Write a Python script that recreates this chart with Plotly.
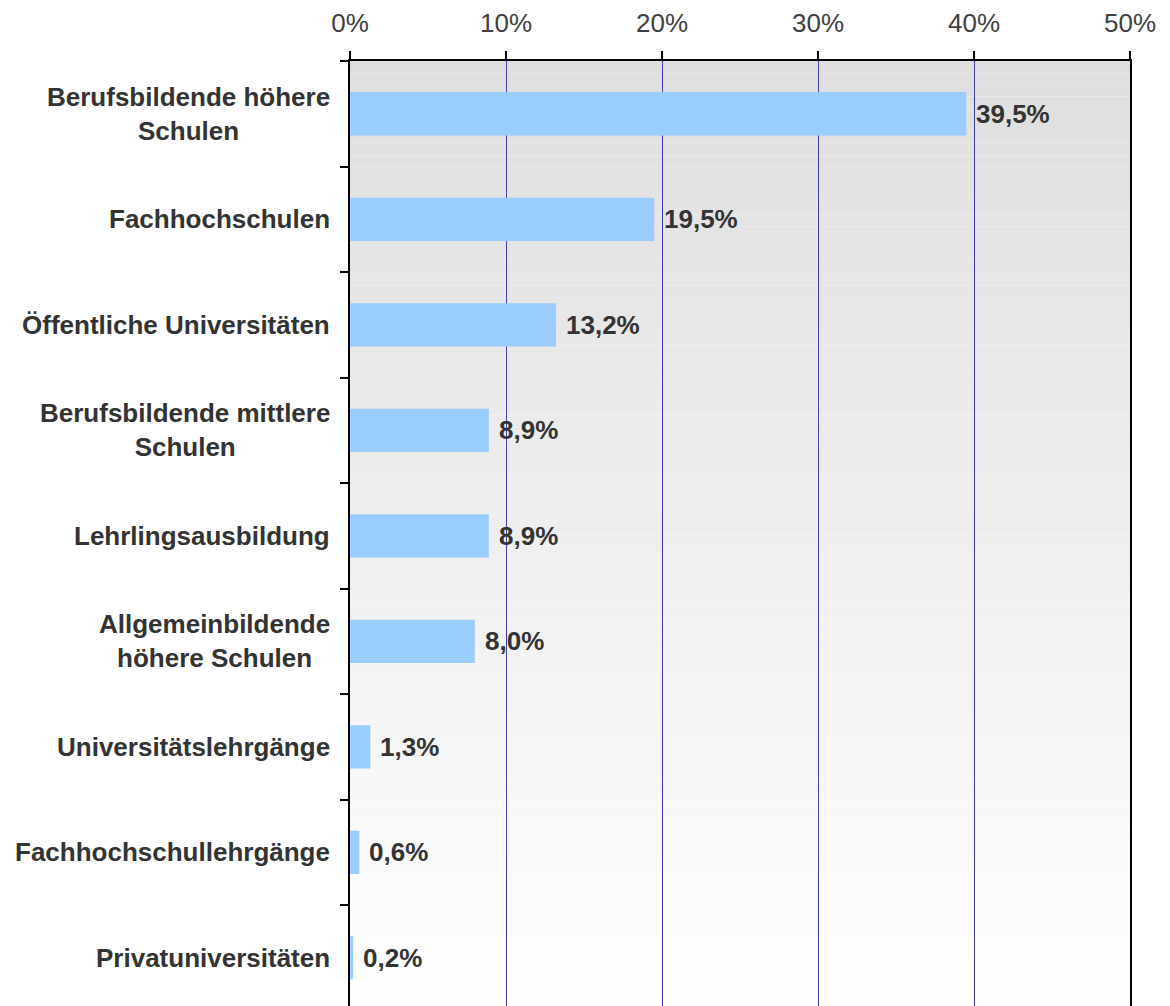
import plotly.graph_objects as go

categories = [
    "Berufsbildende höhere<br>Schulen",
    "Fachhochschulen",
    "Öffentliche Universitäten",
    "Berufsbildende mittlere<br>Schulen",
    "Lehrlingsausbildung",
    "Allgemeinbildende<br>höhere Schulen",
    "Universitätslehrgänge",
    "Fachhochschullehrgänge",
    "Privatuniversitäten",
]
values = [39.5, 19.5, 13.2, 8.9, 8.9, 8.0, 1.3, 0.6, 0.2]
x_ticks = [0, 10, 20, 30, 40, 50]
x_tick_labels = ["0%", "10%", "20%", "30%", "40%", "50%"]

FONT = "Liberation Sans, Arial, Helvetica, sans-serif"
TEXT = "#333333"

fig = go.Figure()
fig.add_trace(go.Bar(
    y=categories,
    x=values,
    orientation="h",
    marker=dict(color="#99ccff", line=dict(width=0)),
    width=0.41,
    hoverinfo="skip",
))

# value labels
annotations = []
for c, v in zip(categories, values):
    annotations.append(dict(
        x=v, y=c, xref="x", yref="y",
        text=f"{v:.1f}".replace(".", ",") + "%",
        showarrow=False, xanchor="left", yanchor="middle", xshift=8,
        font=dict(family=FONT, size=26, color=TEXT, weight="bold"),
    ))
# category labels (centered multi-line, right-anchored)
for c in categories:
    annotations.append(dict(
        x=0, y=c, xref="x", yref="y",
        text=c, showarrow=False, xanchor="right", yanchor="middle",
        align="center", xshift=-18,
        font=dict(family=FONT, size=26, color=TEXT, weight="bold"),
    ))

# vertical gradient background
shapes = []
n = 80
top_c, bot_c = 222, 255
for i in range(n):
    y1 = 1 - i / n
    y0 = 1 - (i + 1) / n
    g = round(top_c + (bot_c - top_c) * (i + 0.5) / n)
    shapes.append(dict(
        type="rect", xref="paper", yref="paper",
        x0=0, x1=1, y0=y0, y1=y1,
        fillcolor=f"rgb({g},{g},{g})", line=dict(width=0), layer="below",
    ))

fig.update_layout(
    width=1162, height=998,
    margin=dict(l=342, r=40, t=53, b=0),
    paper_bgcolor="white",
    plot_bgcolor="white",
    showlegend=False,
    annotations=annotations,
    shapes=shapes,
    font=dict(family=FONT, color=TEXT),
)
fig.update_xaxes(
    side="top", range=[0, 50],
    tickvals=x_ticks, ticktext=x_tick_labels,
    tickfont=dict(family=FONT, size=26, color="#404040"),
    ticks="outside", ticklen=8, tickwidth=2, tickcolor="black",
    ticklabelstandoff=9,
    showline=True, linecolor="black", linewidth=2,
    showgrid=True, gridcolor="#3f3fa8", gridwidth=1,
    zeroline=False, fixedrange=True,
)
fig.update_yaxes(
    type="category",
    range=[8.457, -0.5],
    showticklabels=False,
    tickson="boundaries",
    ticks="outside", ticklen=8, tickwidth=2, tickcolor="black",
    showline=True, linecolor="black", linewidth=2, mirror=True,
    showgrid=False, zeroline=False, fixedrange=True,
)

fig.write_html("out.html", config={"displayModeBar": False})
